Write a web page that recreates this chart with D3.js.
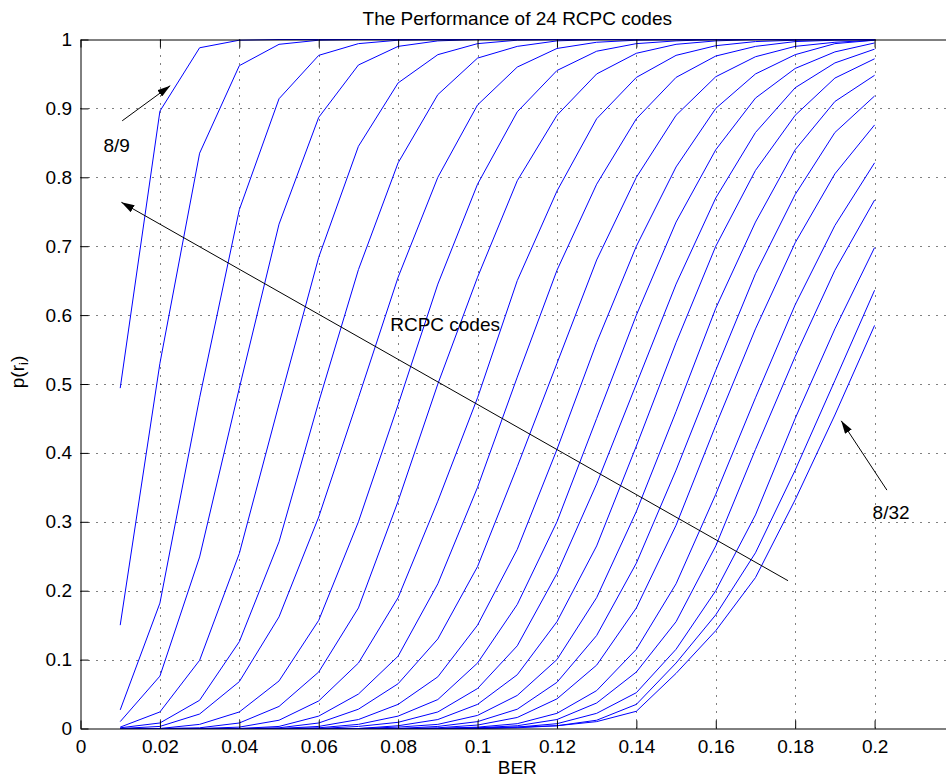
<!DOCTYPE html>
<html>
<head>
<meta charset="utf-8">
<script src="https://cdn.jsdelivr.net/npm/d3@7"></script>
<style>
  html, body { margin: 0; padding: 0; background: #fff; }
  svg { display: block; font-family: "Liberation Sans", Arial, Helvetica, sans-serif; }
</style>
</head>
<body>
<svg id="chart" width="946" height="778"></svg>
<script>
// Bit error rates at which every code was evaluated
const ber = [0.01, 0.02, 0.03, 0.04, 0.05, 0.06, 0.07, 0.08, 0.09, 0.10,
             0.11, 0.12, 0.13, 0.14, 0.15, 0.16, 0.17, 0.18, 0.19, 0.20];

// p(r_i) for each RCPC code rate, one value per BER point
const p8_9  = [0.494, 0.896, 0.988, 0.999, 1, 1, 1, 1, 1, 1, 1, 1, 1, 1, 1, 1, 1, 1, 1, 1];
const p8_10 = [0.150, 0.530, 0.835, 0.962, 0.993, 0.999, 1, 1, 1, 1, 1, 1, 1, 1, 1, 1, 1, 1, 1, 1];
const p8_11 = [0.027, 0.182, 0.480, 0.753, 0.914, 0.977, 0.994, 0.999, 1, 1, 1, 1, 1, 1, 1, 1, 1, 1, 1, 1];
const p8_12 = [0.010, 0.076, 0.249, 0.494, 0.732, 0.887, 0.963, 0.990, 0.998, 1, 1, 1, 1, 1, 1, 1, 1, 1, 1, 1];
const p8_13 = [0.002, 0.024, 0.099, 0.254, 0.471, 0.684, 0.845, 0.937, 0.978, 0.994, 0.999, 1, 1, 1, 1, 1, 1, 1, 1, 1];
const p8_14 = [0.001, 0.008, 0.041, 0.126, 0.271, 0.474, 0.666, 0.821, 0.920, 0.973, 0.990, 0.998, 1, 1, 1, 1, 1, 1, 1, 1];
const p8_15 = [0, 0.003, 0.021, 0.068, 0.162, 0.307, 0.480, 0.655, 0.800, 0.905, 0.960, 0.987, 0.996, 0.999, 1, 1, 1, 1, 1, 1];
const p8_16 = [0, 0, 0.006, 0.024, 0.069, 0.157, 0.300, 0.470, 0.645, 0.790, 0.895, 0.955, 0.983, 0.994, 0.998, 1, 1, 1, 1, 1];
const p8_17 = [0, 0, 0.001, 0.008, 0.032, 0.082, 0.175, 0.330, 0.500, 0.655, 0.795, 0.890, 0.950, 0.980, 0.993, 0.998, 1, 1, 1, 1];
const p8_18 = [0, 0, 0, 0.002, 0.012, 0.040, 0.095, 0.190, 0.330, 0.480, 0.650, 0.780, 0.885, 0.945, 0.977, 0.991, 0.997, 0.999, 1, 1];
const p8_19 = [0, 0, 0, 0, 0.003, 0.018, 0.050, 0.105, 0.210, 0.350, 0.510, 0.665, 0.790, 0.885, 0.945, 0.976, 0.990, 0.997, 0.999, 1];
const p8_20 = [0, 0, 0, 0, 0.001, 0.008, 0.028, 0.065, 0.130, 0.235, 0.380, 0.530, 0.680, 0.800, 0.890, 0.946, 0.975, 0.990, 0.996, 0.999];
const p8_21 = [0, 0, 0, 0, 0, 0.003, 0.013, 0.035, 0.075, 0.150, 0.260, 0.405, 0.560, 0.700, 0.815, 0.900, 0.950, 0.978, 0.994, 0.999];
const p8_22 = [0, 0, 0, 0, 0, 0.001, 0.006, 0.018, 0.042, 0.095, 0.180, 0.300, 0.450, 0.600, 0.735, 0.840, 0.915, 0.958, 0.982, 0.995];
const p8_23 = [0, 0, 0, 0, 0, 0, 0.003, 0.009, 0.024, 0.058, 0.120, 0.225, 0.355, 0.500, 0.645, 0.770, 0.865, 0.930, 0.966, 0.986];
const p8_24 = [0, 0, 0, 0, 0, 0, 0, 0.004, 0.013, 0.035, 0.078, 0.155, 0.265, 0.410, 0.560, 0.700, 0.810, 0.890, 0.944, 0.972];
const p8_25 = [0, 0, 0, 0, 0, 0, 0, 0.002, 0.006, 0.019, 0.048, 0.100, 0.190, 0.315, 0.460, 0.610, 0.735, 0.840, 0.910, 0.948];
const p8_26 = [0, 0, 0, 0, 0, 0, 0, 0, 0.003, 0.010, 0.028, 0.067, 0.135, 0.240, 0.375, 0.520, 0.660, 0.775, 0.865, 0.918];
const p8_27 = [0, 0, 0, 0, 0, 0, 0, 0, 0.001, 0.005, 0.016, 0.043, 0.092, 0.175, 0.295, 0.440, 0.580, 0.705, 0.805, 0.876];
const p8_28 = [0, 0, 0, 0, 0, 0, 0, 0, 0, 0.002, 0.007, 0.022, 0.055, 0.115, 0.210, 0.340, 0.480, 0.615, 0.730, 0.821];
const p8_29 = [0, 0, 0, 0, 0, 0, 0, 0, 0, 0.001, 0.004, 0.013, 0.037, 0.082, 0.155, 0.265, 0.405, 0.540, 0.665, 0.767];
const p8_30 = [0, 0, 0, 0, 0, 0, 0, 0, 0, 0, 0.002, 0.007, 0.022, 0.052, 0.115, 0.200, 0.310, 0.450, 0.580, 0.698];
const p8_31 = [0, 0, 0, 0, 0, 0, 0, 0, 0, 0, 0.001, 0.004, 0.012, 0.035, 0.095, 0.165, 0.255, 0.375, 0.505, 0.636];
const p8_32 = [0, 0, 0, 0, 0, 0, 0, 0, 0, 0.001, 0.002, 0.004, 0.010, 0.025, 0.080, 0.142, 0.219, 0.332, 0.455, 0.585];

const series = [p8_9, p8_10, p8_11, p8_12, p8_13, p8_14, p8_15, p8_16, p8_17, p8_18, p8_19, p8_20,
                p8_21, p8_22, p8_23, p8_24, p8_25, p8_26, p8_27, p8_28, p8_29, p8_30, p8_31, p8_32];

// Axis ticks and their labels
const xTicks = [0, 0.02, 0.04, 0.06, 0.08, 0.10, 0.12, 0.14, 0.16, 0.18, 0.20];
const xTickLabels = ["0", "0.02", "0.04", "0.06", "0.08", "0.1", "0.12", "0.14", "0.16", "0.18", "0.2"];
const yTicks = [0, 0.1, 0.2, 0.3, 0.4, 0.5, 0.6, 0.7, 0.8, 0.9, 1];
const yTickLabels = ["0", "0.1", "0.2", "0.3", "0.4", "0.5", "0.6", "0.7", "0.8", "0.9", "1"];

// Annotations: label text and arrows (data coordinates)
const labels = [
  { text: "8/9", x: 0.0058, y: 0.837 },
  { text: "RCPC codes", x: 0.0780, y: 0.577 },
  { text: "8/32", x: 0.1995, y: 0.304 }
];
const arrows = [
  { from: [0.0105, 0.882], to: [0.0226, 0.933] },
  { from: [0.1782, 0.2145], to: [0.0103, 0.7637] },
  { from: [0.2031, 0.346], to: [0.1916, 0.4466] }
];

const svg = d3.select("#chart");
const FS = 19;
const plotLeft = 80.5, plotRight = 954, plotTop = 39.5, plotBottom = 728.5;

const x = d3.scaleLinear().domain([0, 0.22]).range([plotLeft, plotRight]);
const y = d3.scaleLinear().domain([0, 1]).range([plotBottom, plotTop]);

// dotted grid
const grid = svg.append("g").attr("stroke", "#000").attr("stroke-width", 1)
  .attr("stroke-dasharray", "1,7").attr("fill", "none");
grid.selectAll("line.gx").data(xTicks.filter(d => d > 0)).join("line")
  .attr("x1", d => Math.round(x(d)) + 0.5).attr("x2", d => Math.round(x(d)) + 0.5)
  .attr("y1", y(0)).attr("y2", y(1));
grid.selectAll("line.gy").data(yTicks.filter(d => d > 0 && d < 1)).join("line")
  .attr("y1", d => Math.round(y(d)) + 0.5).attr("y2", d => Math.round(y(d)) + 0.5)
  .attr("x1", x(0)).attr("x2", x(0.22));

// curves
const line = d3.line().x((d, i) => x(ber[i])).y(d => y(d));
svg.append("g").selectAll("path").data(series).join("path")
  .attr("d", line).attr("fill", "none").attr("stroke", "#0000ff").attr("stroke-width", 1);

// axes
function styleAxis(g) {
  g.attr("font-size", FS).attr("font-family", null);
  g.selectAll("path.domain").attr("stroke", "#000").attr("stroke-width", 1);
  g.selectAll(".tick line").attr("stroke", "#000");
  g.selectAll(".tick text").attr("fill", "#000");
}
svg.append("g").attr("transform", `translate(0,${plotBottom})`)
  .call(d3.axisBottom(x).tickValues(xTicks).tickFormat((d, i) => xTickLabels[i])
    .tickSizeInner(-8).tickSizeOuter(0).tickPadding(11))
  .call(styleAxis);
svg.append("g").attr("transform", `translate(0,${plotTop})`)
  .call(d3.axisTop(x).tickValues(xTicks).tickFormat("")
    .tickSizeInner(-8).tickSizeOuter(0))
  .call(styleAxis);
svg.append("g").attr("transform", `translate(${plotLeft},0)`)
  .call(d3.axisLeft(y).tickValues(yTicks).tickFormat((d, i) => yTickLabels[i])
    .tickSizeInner(-8).tickSizeOuter(0).tickPadding(8.5))
  .call(styleAxis);

// titles
svg.append("text").attr("x", (plotLeft + plotRight) / 2).attr("y", 25)
  .attr("text-anchor", "middle").attr("font-size", FS).text("The Performance of 24 RCPC codes");
svg.append("text").attr("x", (plotLeft + plotRight) / 2).attr("y", 774)
  .attr("text-anchor", "middle").attr("font-size", FS).text("BER");
const yl = svg.append("text").attr("transform", "translate(24,372) rotate(-90)")
  .attr("text-anchor", "middle").attr("font-size", FS);
yl.append("tspan").text("p(r");
yl.append("tspan").attr("font-size", 13).attr("dy", 4).text("i");
yl.append("tspan").attr("dy", -4).text(")");

// annotations
svg.append("defs").append("marker").attr("id", "head")
  .attr("viewBox", "0 0 13 8").attr("refX", 13).attr("refY", 4)
  .attr("markerWidth", 13).attr("markerHeight", 8).attr("markerUnits", "userSpaceOnUse")
  .attr("orient", "auto")
  .append("path").attr("d", "M0,0 L13,4 L0,8 Z").attr("fill", "#000");
svg.append("g").selectAll("line").data(arrows).join("line")
  .attr("x1", d => x(d.from[0])).attr("y1", d => y(d.from[1]))
  .attr("x2", d => x(d.to[0])).attr("y2", d => y(d.to[1]))
  .attr("stroke", "#000").attr("stroke-width", 1).attr("marker-end", "url(#head)");
svg.append("g").selectAll("text").data(labels).join("text")
  .attr("x", d => x(d.x)).attr("y", d => y(d.y)).attr("font-size", FS).text(d => d.text);
</script>
</body>
</html>
